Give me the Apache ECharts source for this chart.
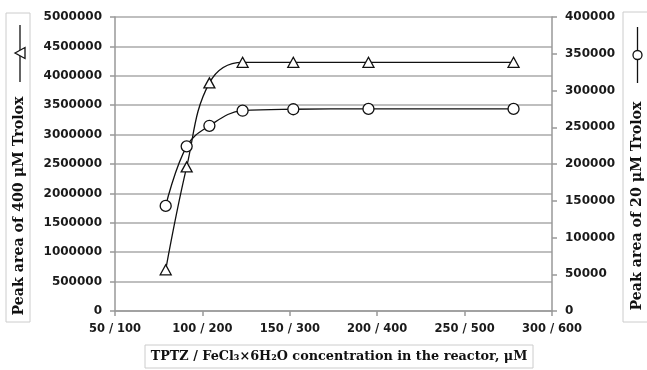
<!DOCTYPE html>
<html><head><meta charset="utf-8">
<script src="https://cdn.jsdelivr.net/npm/echarts@6/dist/echarts.min.js"></script>
<style>html,body{margin:0;padding:0;background:#fff}#c{width:647px;height:370px}</style>
</head><body><div id="c"></div>
<script>
var xValues = [79, 91, 104, 123, 152, 195, 278];
var trianglePeak400 = [700000, 2450000, 3880000, 4230000, 4230000, 4230000, 4230000];
var circlePeak20 = [143000, 224000, 252000, 272500, 274500, 275000, 275000];
var xTickLabels = {50:'50 / 100',100:'100 / 200',150:'150 / 300',200:'200 / 400',250:'250 / 500',300:'300 / 600'};
var leftTitle = 'Peak area of 400 \u03bcM Trolox';
var rightTitle = 'Peak area of 20 \u03bcM Trolox';
var xTitle = 'TPTZ / FeCl\u2083\u00d76H\u2082O concentration in the reactor, \u03bcM';

var chart = echarts.init(document.getElementById('c'));
var lblStyle = {fontFamily:'DejaVu Sans', fontWeight:'bold', fontSize:12, color:'#1a1a1a'};
var serif = 'DejaVu Serif';
function plain(v){return String(v);}
function pairs(a){return xValues.map(function(x,i){return [x,a[i]];});}
chart.setOption({
  animation:false,
  grid:{left:115, right:95, top:17, bottom:59},
  xAxis:{type:'value', min:50, max:300, interval:50,
    axisLine:{lineStyle:{color:'#999', width:1.5}},
    axisTick:{show:true, length:5, lineStyle:{color:'#999', width:1.5}},
    splitLine:{show:false},
    axisLabel:Object.assign({margin:12, formatter:function(v){return xTickLabels[v]||'';}}, lblStyle, {fontSize:11.5})},
  yAxis:[
    {type:'value', min:0, max:5000000, interval:500000,
     axisLine:{show:true, lineStyle:{color:'#999', width:1.5}},
     axisTick:{show:true, length:5, lineStyle:{color:'#999', width:1.5}},
     splitLine:{lineStyle:{color:'#aaa', width:1.5}},
     axisLabel:Object.assign({margin:13, formatter:plain}, lblStyle)},
    {type:'value', min:0, max:400000, interval:50000, position:'right',
     axisLine:{show:true, lineStyle:{color:'#999', width:1.5}},
     axisTick:{show:true, length:5, lineStyle:{color:'#999', width:1.5}},
     splitLine:{show:false},
     axisLabel:Object.assign({margin:13, formatter:plain}, lblStyle)}
  ],
  series:[
    {type:'line', yAxisIndex:0, data:pairs(trianglePeak400), smooth:0.4,
     symbol:'triangle', symbolSize:[11,10],
     lineStyle:{color:'#111', width:1.3},
     itemStyle:{color:'#fff', borderColor:'#111', borderWidth:1.3}},
    {type:'line', yAxisIndex:1, data:pairs(circlePeak20), smooth:0.4,
     symbol:'circle', symbolSize:11,
     lineStyle:{color:'#111', width:1.3},
     itemStyle:{color:'#fff', borderColor:'#111', borderWidth:1.3}}
  ],
  graphic:[
    {type:'rect', shape:{x:6, y:13, width:24, height:309}, style:{fill:'#fff', stroke:'#ccc', lineWidth:1}},
    {type:'text', x:19, y:206, rotation:Math.PI/2,
     style:{text:leftTitle, fontFamily:serif, fontWeight:'bold', fontSize:14.2, fill:'#111', textAlign:'center', textVerticalAlign:'middle'}},
    {type:'line', shape:{x1:20, y1:25, x2:20, y2:82}, style:{stroke:'#111', lineWidth:1.3}},
    {type:'polygon', shape:{points:[[15,53],[25,47.5],[25,58.5]]}, style:{fill:'#fff', stroke:'#111', lineWidth:1.3}},

    {type:'rect', shape:{x:623, y:12, width:26, height:310}, style:{fill:'#fff', stroke:'#ccc', lineWidth:1}},
    {type:'text', x:637, y:206, rotation:Math.PI/2,
     style:{text:rightTitle, fontFamily:serif, fontWeight:'bold', fontSize:14.2, fill:'#111', textAlign:'center', textVerticalAlign:'middle'}},
    {type:'line', shape:{x1:637.5, y1:27, x2:637.5, y2:83}, style:{stroke:'#111', lineWidth:1.3}},
    {type:'circle', shape:{cx:637.5, cy:55, r:4.5}, style:{fill:'#fff', stroke:'#111', lineWidth:1.3}},

    {type:'rect', shape:{x:145, y:345, width:388, height:23}, style:{fill:'#fff', stroke:'#ccc', lineWidth:1}},
    {type:'text', x:339, y:357,
     style:{text:xTitle, fontFamily:serif, fontWeight:'bold', fontSize:12.8, fill:'#111', textAlign:'center', textVerticalAlign:'middle'}}
  ]
});
</script></body></html>
